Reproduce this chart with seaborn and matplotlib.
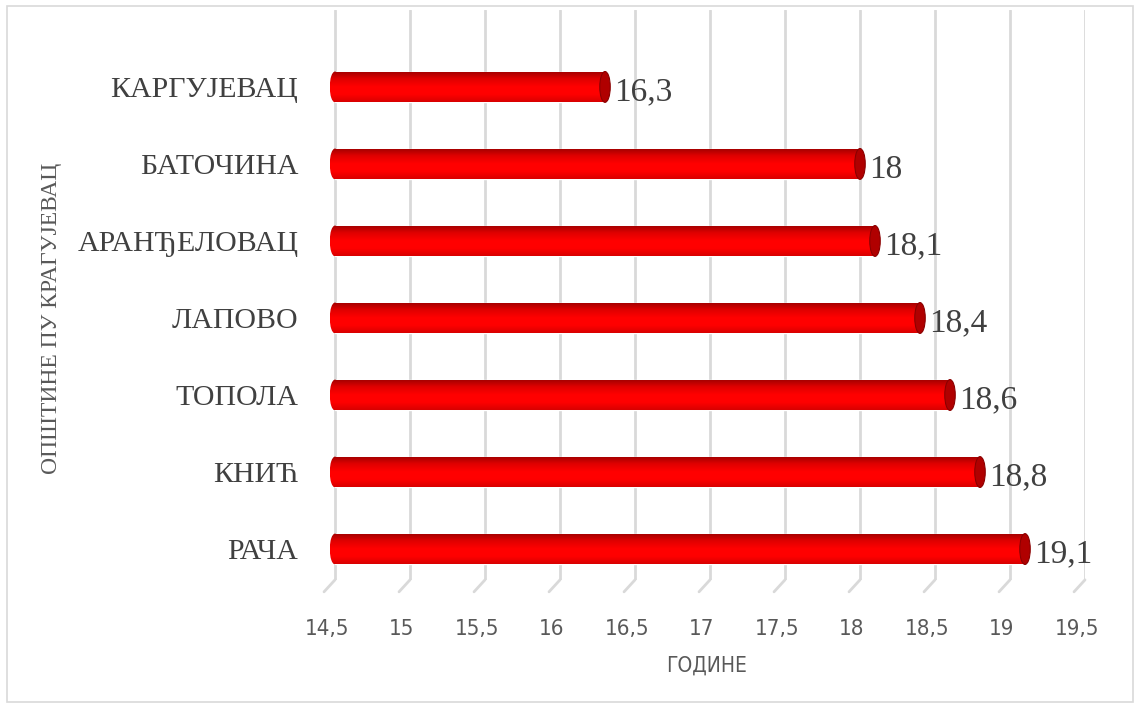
import numpy as np
import pandas as pd
import seaborn as sns
import matplotlib.pyplot as plt
from matplotlib.patches import Ellipse, Rectangle
from matplotlib.ticker import FuncFormatter, MultipleLocator
from matplotlib.transforms import blended_transform_factory, ScaledTranslation
from matplotlib.colors import LinearSegmentedColormap

# Data
opstine = ["КАРГУЈЕВАЦ", "БАТОЧИНА", "АРАНЂЕЛОВАЦ", "ЛАПОВО", "ТОПОЛА", "КНИЋ", "РАЧА"]
godine = [16.3, 18.0, 18.1, 18.4, 18.6, 18.8, 19.1]
df = pd.DataFrame({"opstina": opstine, "godine": godine})

sns.set_style("white")
plt.rcParams['font.family'] = ['Liberation Serif', 'DejaVu Serif']

fig = plt.figure(figsize=(11.4, 7.08), dpi=100)
# 14.46..19.5 -> 329..1085 px
ax = fig.add_axes([329 / 1140, 0.181, 756 / 1140, 0.805])

x0 = 14.5
sns.barplot(data=df, y="opstina", x="godine", color="red", width=0.4,
            ax=ax, zorder=3)

# cylinder look: gradient clipped to each bar + end caps
cyl = LinearSegmentedColormap.from_list(
    "cyl", ["#d80000", "#ff0000", "#ff0000", "#e00000", "#9e0000"])
grad = np.linspace(0, 1, 256).reshape(-1, 1)
for p in ax.patches[:]:
    x, y, w, h = p.get_x(), p.get_y(), p.get_width(), p.get_height()
    p.set_x(x0)
    p.set_width(x + w - x0)
    img = ax.imshow(grad, cmap=cyl, aspect="auto", zorder=3.5,
                    extent=(x0, x + w, y, y + h), origin="upper")
    img.set_clip_path(p)
    left = Ellipse((x0, y + h / 2), 0.07, h, facecolor="none", edgecolor="none")
    ax.add_patch(left)
    img2 = ax.imshow(grad, cmap=cyl, aspect="auto", zorder=3.5,
                     extent=(x0 - 0.036, x0 + 0.001, y, y + h), origin="upper")
    img2.set_clip_path(left)
    ax.add_patch(Ellipse((x + w, y + h / 2), 0.07, h, facecolor="#b00000",
                         edgecolor="#8a0000", lw=0.8, zorder=4))

ax.set_xlim(14.46, 19.5)
ax.set_ylim(6.4, -1.0)

# value labels
for y, v in enumerate(godine):
    ax.text(v + 0.06, y + 0.07, f"{v:g}".replace(".", ","), va="center", ha="left",
            fontsize=24, color="#404040", zorder=5)

# grid + floor
ax.xaxis.set_major_locator(MultipleLocator(0.5))
ax.grid(axis="x", color="#d9d9d9", lw=2, zorder=0)
ax.grid(axis="y", visible=False)
trans = blended_transform_factory(ax.transData, ax.transAxes)
for t in np.arange(14.5, 19.51, 0.5):
    ax.annotate("", xy=(t, 0), xycoords=trans, xytext=(-11, -12),
                textcoords="offset pixels", annotation_clip=False,
                arrowprops=dict(arrowstyle="-", color="#d9d9d9", lw=2,
                                shrinkA=0, shrinkB=0))

for s in ax.spines.values():
    s.set_visible(False)

sans = ["DejaVu Sans", "Liberation Sans"]
ax.xaxis.set_major_formatter(FuncFormatter(lambda v, _: f"{v:g}".replace(".", ",")))
ax.tick_params(axis="x", length=0, pad=28, labelsize=16, labelcolor="#595959")
ax.tick_params(axis="y", length=0, pad=22, labelsize=21.5, labelcolor="#404040")
for lab in ax.get_xticklabels():
    lab.set_family(sans)
    lab.set_fontstretch("condensed")
    lab.set_transform(lab.get_transform() + ScaledTranslation(-8 / 100, 0, fig.dpi_scale_trans))

ax.set_xlabel("ГОДИНЕ", fontsize=15, color="#595959", labelpad=12,
              family=sans, fontstretch="condensed")
ax.set_ylabel("ОПШТИНЕ ПУ КРАГУЈЕВАЦ", fontsize=17, color="#595959")
ax.yaxis.set_label_coords((62 - 329) / 756, 0.458)

fig.patches.append(Rectangle((0.006, 0.008), 0.988, 0.984, transform=fig.transFigure,
                             fill=False, edgecolor="#d9d9d9", lw=1.2))

plt.savefig("out.png", dpi=100)
